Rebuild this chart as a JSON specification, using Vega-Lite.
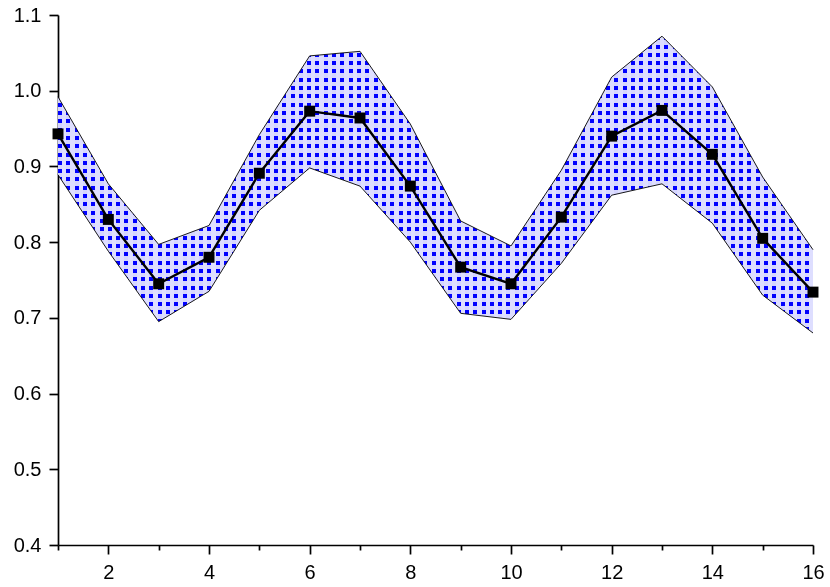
{
"$schema":"https://vega.github.io/schema/vega-lite/v6.json",
"width":755,"height":530,
"autosize":"none",
"padding":{"left":58,"top":15,"right":17,"bottom":42},
"background":"white",
"config":{"view":{"stroke":null},
"axis":{"domainColor":"black","domainWidth":1.7,"tickColor":"black","tickWidth":1.7,"labelColor":"black","labelFont":"Liberation Sans","labelFontSize":20,"grid":false,"labelPadding":8,"labelFlush":false,"labelOverlap":false}},
"data":{"values":[
{"x":1,"y":0.943,"lo":0.889,"hi":0.992},
{"x":2,"y":0.830,"lo":0.788,"hi":0.877},
{"x":3,"y":0.745,"lo":0.695,"hi":0.797},
{"x":4,"y":0.780,"lo":0.735,"hi":0.822},
{"x":5,"y":0.891,"lo":0.842,"hi":0.942},
{"x":6,"y":0.973,"lo":0.898,"hi":1.046},
{"x":7,"y":0.964,"lo":0.874,"hi":1.052},
{"x":8,"y":0.874,"lo":0.800,"hi":0.956},
{"x":9,"y":0.767,"lo":0.706,"hi":0.828},
{"x":10,"y":0.745,"lo":0.698,"hi":0.795},
{"x":11,"y":0.833,"lo":0.772,"hi":0.895},
{"x":12,"y":0.940,"lo":0.862,"hi":1.018},
{"x":13,"y":0.974,"lo":0.877,"hi":1.072},
{"x":14,"y":0.916,"lo":0.825,"hi":1.005},
{"x":15,"y":0.805,"lo":0.730,"hi":0.886},
{"x":16,"y":0.734,"lo":0.680,"hi":0.790}
]},
"layer":[
{"mark":{"type":"area","fill":{"gradient":"linear","x1":0,"y1":0,"x2":1,"y2":0,"stops":[
{"offset":0,"color":"#f5f5ff"},{"offset":0.0053,"color":"#f5f5ff"},{"offset":0.0053,"color":"#fff"},{"offset":0.011,"color":"#fff"},
{"offset":0.011,"color":"#f5f5ff"},{"offset":0.0163,"color":"#f5f5ff"},{"offset":0.0163,"color":"#fff"},{"offset":0.022,"color":"#fff"},
{"offset":0.022,"color":"#f5f5ff"},{"offset":0.0273,"color":"#f5f5ff"},{"offset":0.0273,"color":"#fff"},{"offset":0.033,"color":"#fff"},
{"offset":0.033,"color":"#f5f5ff"},{"offset":0.0383,"color":"#f5f5ff"},{"offset":0.0383,"color":"#fff"},{"offset":0.044,"color":"#fff"},
{"offset":0.044,"color":"#f5f5ff"},{"offset":0.0493,"color":"#f5f5ff"},{"offset":0.0493,"color":"#fff"},{"offset":0.055,"color":"#fff"},
{"offset":0.055,"color":"#f5f5ff"},{"offset":0.0603,"color":"#f5f5ff"},{"offset":0.0603,"color":"#fff"},{"offset":0.066,"color":"#fff"},
{"offset":0.066,"color":"#f5f5ff"},{"offset":0.0713,"color":"#f5f5ff"},{"offset":0.0713,"color":"#fff"},{"offset":0.077,"color":"#fff"},
{"offset":0.077,"color":"#f5f5ff"},{"offset":0.0823,"color":"#f5f5ff"},{"offset":0.0823,"color":"#fff"},{"offset":0.088,"color":"#fff"},
{"offset":0.088,"color":"#f5f5ff"},{"offset":0.0933,"color":"#f5f5ff"},{"offset":0.0933,"color":"#fff"},{"offset":0.099,"color":"#fff"},
{"offset":0.099,"color":"#f5f5ff"},{"offset":0.1043,"color":"#f5f5ff"},{"offset":0.1043,"color":"#fff"},{"offset":0.11,"color":"#fff"},
{"offset":0.11,"color":"#f5f5ff"},{"offset":0.1153,"color":"#f5f5ff"},{"offset":0.1153,"color":"#fff"},{"offset":0.121,"color":"#fff"},
{"offset":0.121,"color":"#f5f5ff"},{"offset":0.1263,"color":"#f5f5ff"},{"offset":0.1263,"color":"#fff"},{"offset":0.132,"color":"#fff"},
{"offset":0.132,"color":"#f5f5ff"},{"offset":0.1373,"color":"#f5f5ff"},{"offset":0.1373,"color":"#fff"},{"offset":0.143,"color":"#fff"},
{"offset":0.143,"color":"#f5f5ff"},{"offset":0.1483,"color":"#f5f5ff"},{"offset":0.1483,"color":"#fff"},{"offset":0.154,"color":"#fff"},
{"offset":0.154,"color":"#f5f5ff"},{"offset":0.1593,"color":"#f5f5ff"},{"offset":0.1593,"color":"#fff"},{"offset":0.165,"color":"#fff"},
{"offset":0.165,"color":"#f5f5ff"},{"offset":0.1703,"color":"#f5f5ff"},{"offset":0.1703,"color":"#fff"},{"offset":0.176,"color":"#fff"},
{"offset":0.176,"color":"#f5f5ff"},{"offset":0.1813,"color":"#f5f5ff"},{"offset":0.1813,"color":"#fff"},{"offset":0.187,"color":"#fff"},
{"offset":0.187,"color":"#f5f5ff"},{"offset":0.1923,"color":"#f5f5ff"},{"offset":0.1923,"color":"#fff"},{"offset":0.198,"color":"#fff"},
{"offset":0.198,"color":"#f5f5ff"},{"offset":0.2033,"color":"#f5f5ff"},{"offset":0.2033,"color":"#fff"},{"offset":0.209,"color":"#fff"},
{"offset":0.209,"color":"#f5f5ff"},{"offset":0.2143,"color":"#f5f5ff"},{"offset":0.2143,"color":"#fff"},{"offset":0.22,"color":"#fff"},
{"offset":0.22,"color":"#f5f5ff"},{"offset":0.2253,"color":"#f5f5ff"},{"offset":0.2253,"color":"#fff"},{"offset":0.231,"color":"#fff"},
{"offset":0.231,"color":"#f5f5ff"},{"offset":0.2363,"color":"#f5f5ff"},{"offset":0.2363,"color":"#fff"},{"offset":0.242,"color":"#fff"},
{"offset":0.242,"color":"#f5f5ff"},{"offset":0.2473,"color":"#f5f5ff"},{"offset":0.2473,"color":"#fff"},{"offset":0.253,"color":"#fff"},
{"offset":0.253,"color":"#f5f5ff"},{"offset":0.2583,"color":"#f5f5ff"},{"offset":0.2583,"color":"#fff"},{"offset":0.264,"color":"#fff"},
{"offset":0.264,"color":"#f5f5ff"},{"offset":0.2693,"color":"#f5f5ff"},{"offset":0.2693,"color":"#fff"},{"offset":0.275,"color":"#fff"},
{"offset":0.275,"color":"#f5f5ff"},{"offset":0.2803,"color":"#f5f5ff"},{"offset":0.2803,"color":"#fff"},{"offset":0.286,"color":"#fff"},
{"offset":0.286,"color":"#f5f5ff"},{"offset":0.2913,"color":"#f5f5ff"},{"offset":0.2913,"color":"#fff"},{"offset":0.297,"color":"#fff"},
{"offset":0.297,"color":"#f5f5ff"},{"offset":0.3023,"color":"#f5f5ff"},{"offset":0.3023,"color":"#fff"},{"offset":0.308,"color":"#fff"},
{"offset":0.308,"color":"#f5f5ff"},{"offset":0.3133,"color":"#f5f5ff"},{"offset":0.3133,"color":"#fff"},{"offset":0.319,"color":"#fff"},
{"offset":0.319,"color":"#f5f5ff"},{"offset":0.3243,"color":"#f5f5ff"},{"offset":0.3243,"color":"#fff"},{"offset":0.33,"color":"#fff"},
{"offset":0.33,"color":"#f5f5ff"},{"offset":0.3353,"color":"#f5f5ff"},{"offset":0.3353,"color":"#fff"},{"offset":0.341,"color":"#fff"},
{"offset":0.341,"color":"#f5f5ff"},{"offset":0.3463,"color":"#f5f5ff"},{"offset":0.3463,"color":"#fff"},{"offset":0.352,"color":"#fff"},
{"offset":0.352,"color":"#f5f5ff"},{"offset":0.3573,"color":"#f5f5ff"},{"offset":0.3573,"color":"#fff"},{"offset":0.363,"color":"#fff"},
{"offset":0.363,"color":"#f5f5ff"},{"offset":0.3683,"color":"#f5f5ff"},{"offset":0.3683,"color":"#fff"},{"offset":0.374,"color":"#fff"},
{"offset":0.374,"color":"#f5f5ff"},{"offset":0.3793,"color":"#f5f5ff"},{"offset":0.3793,"color":"#fff"},{"offset":0.385,"color":"#fff"},
{"offset":0.385,"color":"#f5f5ff"},{"offset":0.3903,"color":"#f5f5ff"},{"offset":0.3903,"color":"#fff"},{"offset":0.396,"color":"#fff"},
{"offset":0.396,"color":"#f5f5ff"},{"offset":0.4013,"color":"#f5f5ff"},{"offset":0.4013,"color":"#fff"},{"offset":0.407,"color":"#fff"},
{"offset":0.407,"color":"#f5f5ff"},{"offset":0.4123,"color":"#f5f5ff"},{"offset":0.4123,"color":"#fff"},{"offset":0.418,"color":"#fff"},
{"offset":0.418,"color":"#f5f5ff"},{"offset":0.4233,"color":"#f5f5ff"},{"offset":0.4233,"color":"#fff"},{"offset":0.429,"color":"#fff"},
{"offset":0.429,"color":"#f5f5ff"},{"offset":0.4343,"color":"#f5f5ff"},{"offset":0.4343,"color":"#fff"},{"offset":0.44,"color":"#fff"},
{"offset":0.44,"color":"#f5f5ff"},{"offset":0.4453,"color":"#f5f5ff"},{"offset":0.4453,"color":"#fff"},{"offset":0.451,"color":"#fff"},
{"offset":0.451,"color":"#f5f5ff"},{"offset":0.4563,"color":"#f5f5ff"},{"offset":0.4563,"color":"#fff"},{"offset":0.462,"color":"#fff"},
{"offset":0.462,"color":"#f5f5ff"},{"offset":0.4673,"color":"#f5f5ff"},{"offset":0.4673,"color":"#fff"},{"offset":0.473,"color":"#fff"},
{"offset":0.473,"color":"#f5f5ff"},{"offset":0.4783,"color":"#f5f5ff"},{"offset":0.4783,"color":"#fff"},{"offset":0.484,"color":"#fff"},
{"offset":0.484,"color":"#f5f5ff"},{"offset":0.4893,"color":"#f5f5ff"},{"offset":0.4893,"color":"#fff"},{"offset":0.495,"color":"#fff"},
{"offset":0.495,"color":"#f5f5ff"},{"offset":0.5003,"color":"#f5f5ff"},{"offset":0.5003,"color":"#fff"},{"offset":0.506,"color":"#fff"},
{"offset":0.506,"color":"#f5f5ff"},{"offset":0.5113,"color":"#f5f5ff"},{"offset":0.5113,"color":"#fff"},{"offset":0.517,"color":"#fff"},
{"offset":0.517,"color":"#f5f5ff"},{"offset":0.5223,"color":"#f5f5ff"},{"offset":0.5223,"color":"#fff"},{"offset":0.528,"color":"#fff"},
{"offset":0.528,"color":"#f5f5ff"},{"offset":0.5333,"color":"#f5f5ff"},{"offset":0.5333,"color":"#fff"},{"offset":0.539,"color":"#fff"},
{"offset":0.539,"color":"#f5f5ff"},{"offset":0.5443,"color":"#f5f5ff"},{"offset":0.5443,"color":"#fff"},{"offset":0.55,"color":"#fff"},
{"offset":0.55,"color":"#f5f5ff"},{"offset":0.5553,"color":"#f5f5ff"},{"offset":0.5553,"color":"#fff"},{"offset":0.561,"color":"#fff"},
{"offset":0.561,"color":"#f5f5ff"},{"offset":0.5663,"color":"#f5f5ff"},{"offset":0.5663,"color":"#fff"},{"offset":0.572,"color":"#fff"},
{"offset":0.572,"color":"#f5f5ff"},{"offset":0.5773,"color":"#f5f5ff"},{"offset":0.5773,"color":"#fff"},{"offset":0.583,"color":"#fff"},
{"offset":0.583,"color":"#f5f5ff"},{"offset":0.5883,"color":"#f5f5ff"},{"offset":0.5883,"color":"#fff"},{"offset":0.594,"color":"#fff"},
{"offset":0.594,"color":"#f5f5ff"},{"offset":0.5993,"color":"#f5f5ff"},{"offset":0.5993,"color":"#fff"},{"offset":0.605,"color":"#fff"},
{"offset":0.605,"color":"#f5f5ff"},{"offset":0.6103,"color":"#f5f5ff"},{"offset":0.6103,"color":"#fff"},{"offset":0.616,"color":"#fff"},
{"offset":0.616,"color":"#f5f5ff"},{"offset":0.6213,"color":"#f5f5ff"},{"offset":0.6213,"color":"#fff"},{"offset":0.627,"color":"#fff"},
{"offset":0.627,"color":"#f5f5ff"},{"offset":0.6323,"color":"#f5f5ff"},{"offset":0.6323,"color":"#fff"},{"offset":0.638,"color":"#fff"},
{"offset":0.638,"color":"#f5f5ff"},{"offset":0.6433,"color":"#f5f5ff"},{"offset":0.6433,"color":"#fff"},{"offset":0.649,"color":"#fff"},
{"offset":0.649,"color":"#f5f5ff"},{"offset":0.6543,"color":"#f5f5ff"},{"offset":0.6543,"color":"#fff"},{"offset":0.66,"color":"#fff"},
{"offset":0.66,"color":"#f5f5ff"},{"offset":0.6653,"color":"#f5f5ff"},{"offset":0.6653,"color":"#fff"},{"offset":0.671,"color":"#fff"},
{"offset":0.671,"color":"#f5f5ff"},{"offset":0.6763,"color":"#f5f5ff"},{"offset":0.6763,"color":"#fff"},{"offset":0.682,"color":"#fff"},
{"offset":0.682,"color":"#f5f5ff"},{"offset":0.6873,"color":"#f5f5ff"},{"offset":0.6873,"color":"#fff"},{"offset":0.693,"color":"#fff"},
{"offset":0.693,"color":"#f5f5ff"},{"offset":0.6983,"color":"#f5f5ff"},{"offset":0.6983,"color":"#fff"},{"offset":0.704,"color":"#fff"},
{"offset":0.704,"color":"#f5f5ff"},{"offset":0.7093,"color":"#f5f5ff"},{"offset":0.7093,"color":"#fff"},{"offset":0.715,"color":"#fff"},
{"offset":0.715,"color":"#f5f5ff"},{"offset":0.7203,"color":"#f5f5ff"},{"offset":0.7203,"color":"#fff"},{"offset":0.726,"color":"#fff"},
{"offset":0.726,"color":"#f5f5ff"},{"offset":0.7313,"color":"#f5f5ff"},{"offset":0.7313,"color":"#fff"},{"offset":0.737,"color":"#fff"},
{"offset":0.737,"color":"#f5f5ff"},{"offset":0.7423,"color":"#f5f5ff"},{"offset":0.7423,"color":"#fff"},{"offset":0.748,"color":"#fff"},
{"offset":0.748,"color":"#f5f5ff"},{"offset":0.7533,"color":"#f5f5ff"},{"offset":0.7533,"color":"#fff"},{"offset":0.759,"color":"#fff"},
{"offset":0.759,"color":"#f5f5ff"},{"offset":0.7643,"color":"#f5f5ff"},{"offset":0.7643,"color":"#fff"},{"offset":0.77,"color":"#fff"},
{"offset":0.77,"color":"#f5f5ff"},{"offset":0.7753,"color":"#f5f5ff"},{"offset":0.7753,"color":"#fff"},{"offset":0.781,"color":"#fff"},
{"offset":0.781,"color":"#f5f5ff"},{"offset":0.7863,"color":"#f5f5ff"},{"offset":0.7863,"color":"#fff"},{"offset":0.792,"color":"#fff"},
{"offset":0.792,"color":"#f5f5ff"},{"offset":0.7973,"color":"#f5f5ff"},{"offset":0.7973,"color":"#fff"},{"offset":0.803,"color":"#fff"},
{"offset":0.803,"color":"#f5f5ff"},{"offset":0.8083,"color":"#f5f5ff"},{"offset":0.8083,"color":"#fff"},{"offset":0.814,"color":"#fff"},
{"offset":0.814,"color":"#f5f5ff"},{"offset":0.8193,"color":"#f5f5ff"},{"offset":0.8193,"color":"#fff"},{"offset":0.825,"color":"#fff"},
{"offset":0.825,"color":"#f5f5ff"},{"offset":0.8303,"color":"#f5f5ff"},{"offset":0.8303,"color":"#fff"},{"offset":0.836,"color":"#fff"},
{"offset":0.836,"color":"#f5f5ff"},{"offset":0.8413,"color":"#f5f5ff"},{"offset":0.8413,"color":"#fff"},{"offset":0.847,"color":"#fff"},
{"offset":0.847,"color":"#f5f5ff"},{"offset":0.8523,"color":"#f5f5ff"},{"offset":0.8523,"color":"#fff"},{"offset":0.858,"color":"#fff"},
{"offset":0.858,"color":"#f5f5ff"},{"offset":0.8633,"color":"#f5f5ff"},{"offset":0.8633,"color":"#fff"},{"offset":0.869,"color":"#fff"},
{"offset":0.869,"color":"#f5f5ff"},{"offset":0.8743,"color":"#f5f5ff"},{"offset":0.8743,"color":"#fff"},{"offset":0.88,"color":"#fff"},
{"offset":0.88,"color":"#f5f5ff"},{"offset":0.8853,"color":"#f5f5ff"},{"offset":0.8853,"color":"#fff"},{"offset":0.891,"color":"#fff"},
{"offset":0.891,"color":"#f5f5ff"},{"offset":0.8963,"color":"#f5f5ff"},{"offset":0.8963,"color":"#fff"},{"offset":0.902,"color":"#fff"},
{"offset":0.902,"color":"#f5f5ff"},{"offset":0.9073,"color":"#f5f5ff"},{"offset":0.9073,"color":"#fff"},{"offset":0.913,"color":"#fff"},
{"offset":0.913,"color":"#f5f5ff"},{"offset":0.9183,"color":"#f5f5ff"},{"offset":0.9183,"color":"#fff"},{"offset":0.924,"color":"#fff"},
{"offset":0.924,"color":"#f5f5ff"},{"offset":0.9293,"color":"#f5f5ff"},{"offset":0.9293,"color":"#fff"},{"offset":0.935,"color":"#fff"},
{"offset":0.935,"color":"#f5f5ff"},{"offset":0.9403,"color":"#f5f5ff"},{"offset":0.9403,"color":"#fff"},{"offset":0.946,"color":"#fff"},
{"offset":0.946,"color":"#f5f5ff"},{"offset":0.9513,"color":"#f5f5ff"},{"offset":0.9513,"color":"#fff"},{"offset":0.957,"color":"#fff"},
{"offset":0.957,"color":"#f5f5ff"},{"offset":0.9623,"color":"#f5f5ff"},{"offset":0.9623,"color":"#fff"},{"offset":0.968,"color":"#fff"},
{"offset":0.968,"color":"#f5f5ff"},{"offset":0.9733,"color":"#f5f5ff"},{"offset":0.9733,"color":"#fff"},{"offset":0.979,"color":"#fff"},
{"offset":0.979,"color":"#f5f5ff"},{"offset":0.9843,"color":"#f5f5ff"},{"offset":0.9843,"color":"#fff"},{"offset":0.99,"color":"#fff"},
{"offset":0.99,"color":"#f5f5ff"},{"offset":0.9953,"color":"#f5f5ff"},{"offset":0.9953,"color":"#fff"},{"offset":1,"color":"#fff"}
]}},
"encoding":{
"x":{"field":"x","type":"quantitative","title":null,"scale":{"domain":[1,16],"nice":false,"zero":false},
"axis":{"values":[1,2,3,4,5,6,7,8,9,10,11,12,13,14,15,16],"labelExpr":"datum.value % 2 == 0 ? datum.label : ''","tickSize":{"condition":{"test":"datum.value % 2 == 0","value":9},"value":5}}},
"y":{"field":"hi","type":"quantitative","title":null,"scale":{"domain":[0.4,1.1],"nice":false,"zero":false},
"axis":{"values":[0.4,0.45,0.5,0.55,0.6,0.65,0.7,0.75,0.8,0.85,0.9,0.95,1.0,1.05,1.1],"labelExpr":"round(datum.value*100) % 10 == 0 ? format(datum.value, '.1f') : ''","tickSize":{"condition":{"test":"round(datum.value*100) % 10 == 0","value":9},"value":5}}},
"y2":{"field":"lo"}}},
{"mark":{"type":"area","blend":"color-burn","fill":{"gradient":"linear","x1":0,"y1":0,"x2":0,"y2":1,"stops":[
{"offset":0,"color":"#0808ff"},{"offset":0.0135,"color":"#0808ff"},{"offset":0.0135,"color":"#fff"},{"offset":0.028,"color":"#fff"},
{"offset":0.028,"color":"#0808ff"},{"offset":0.0415,"color":"#0808ff"},{"offset":0.0415,"color":"#fff"},{"offset":0.056,"color":"#fff"},
{"offset":0.056,"color":"#0808ff"},{"offset":0.0695,"color":"#0808ff"},{"offset":0.0695,"color":"#fff"},{"offset":0.084,"color":"#fff"},
{"offset":0.084,"color":"#0808ff"},{"offset":0.0975,"color":"#0808ff"},{"offset":0.0975,"color":"#fff"},{"offset":0.112,"color":"#fff"},
{"offset":0.112,"color":"#0808ff"},{"offset":0.1255,"color":"#0808ff"},{"offset":0.1255,"color":"#fff"},{"offset":0.14,"color":"#fff"},
{"offset":0.14,"color":"#0808ff"},{"offset":0.1535,"color":"#0808ff"},{"offset":0.1535,"color":"#fff"},{"offset":0.168,"color":"#fff"},
{"offset":0.168,"color":"#0808ff"},{"offset":0.1815,"color":"#0808ff"},{"offset":0.1815,"color":"#fff"},{"offset":0.196,"color":"#fff"},
{"offset":0.196,"color":"#0808ff"},{"offset":0.2095,"color":"#0808ff"},{"offset":0.2095,"color":"#fff"},{"offset":0.224,"color":"#fff"},
{"offset":0.224,"color":"#0808ff"},{"offset":0.2375,"color":"#0808ff"},{"offset":0.2375,"color":"#fff"},{"offset":0.252,"color":"#fff"},
{"offset":0.252,"color":"#0808ff"},{"offset":0.2655,"color":"#0808ff"},{"offset":0.2655,"color":"#fff"},{"offset":0.28,"color":"#fff"},
{"offset":0.28,"color":"#0808ff"},{"offset":0.2935,"color":"#0808ff"},{"offset":0.2935,"color":"#fff"},{"offset":0.308,"color":"#fff"},
{"offset":0.308,"color":"#0808ff"},{"offset":0.3215,"color":"#0808ff"},{"offset":0.3215,"color":"#fff"},{"offset":0.336,"color":"#fff"},
{"offset":0.336,"color":"#0808ff"},{"offset":0.3495,"color":"#0808ff"},{"offset":0.3495,"color":"#fff"},{"offset":0.364,"color":"#fff"},
{"offset":0.364,"color":"#0808ff"},{"offset":0.3775,"color":"#0808ff"},{"offset":0.3775,"color":"#fff"},{"offset":0.392,"color":"#fff"},
{"offset":0.392,"color":"#0808ff"},{"offset":0.4055,"color":"#0808ff"},{"offset":0.4055,"color":"#fff"},{"offset":0.42,"color":"#fff"},
{"offset":0.42,"color":"#0808ff"},{"offset":0.4335,"color":"#0808ff"},{"offset":0.4335,"color":"#fff"},{"offset":0.448,"color":"#fff"},
{"offset":0.448,"color":"#0808ff"},{"offset":0.4615,"color":"#0808ff"},{"offset":0.4615,"color":"#fff"},{"offset":0.476,"color":"#fff"},
{"offset":0.476,"color":"#0808ff"},{"offset":0.4895,"color":"#0808ff"},{"offset":0.4895,"color":"#fff"},{"offset":0.504,"color":"#fff"},
{"offset":0.504,"color":"#0808ff"},{"offset":0.5175,"color":"#0808ff"},{"offset":0.5175,"color":"#fff"},{"offset":0.532,"color":"#fff"},
{"offset":0.532,"color":"#0808ff"},{"offset":0.5455,"color":"#0808ff"},{"offset":0.5455,"color":"#fff"},{"offset":0.56,"color":"#fff"},
{"offset":0.56,"color":"#0808ff"},{"offset":0.5735,"color":"#0808ff"},{"offset":0.5735,"color":"#fff"},{"offset":0.588,"color":"#fff"},
{"offset":0.588,"color":"#0808ff"},{"offset":0.6015,"color":"#0808ff"},{"offset":0.6015,"color":"#fff"},{"offset":0.616,"color":"#fff"},
{"offset":0.616,"color":"#0808ff"},{"offset":0.6295,"color":"#0808ff"},{"offset":0.6295,"color":"#fff"},{"offset":0.644,"color":"#fff"},
{"offset":0.644,"color":"#0808ff"},{"offset":0.6575,"color":"#0808ff"},{"offset":0.6575,"color":"#fff"},{"offset":0.672,"color":"#fff"},
{"offset":0.672,"color":"#0808ff"},{"offset":0.6855,"color":"#0808ff"},{"offset":0.6855,"color":"#fff"},{"offset":0.7,"color":"#fff"},
{"offset":0.7,"color":"#0808ff"},{"offset":0.7135,"color":"#0808ff"},{"offset":0.7135,"color":"#fff"},{"offset":0.728,"color":"#fff"},
{"offset":0.728,"color":"#0808ff"},{"offset":0.7415,"color":"#0808ff"},{"offset":0.7415,"color":"#fff"},{"offset":0.756,"color":"#fff"},
{"offset":0.756,"color":"#0808ff"},{"offset":0.7695,"color":"#0808ff"},{"offset":0.7695,"color":"#fff"},{"offset":0.784,"color":"#fff"},
{"offset":0.784,"color":"#0808ff"},{"offset":0.7975,"color":"#0808ff"},{"offset":0.7975,"color":"#fff"},{"offset":0.812,"color":"#fff"},
{"offset":0.812,"color":"#0808ff"},{"offset":0.8255,"color":"#0808ff"},{"offset":0.8255,"color":"#fff"},{"offset":0.84,"color":"#fff"},
{"offset":0.84,"color":"#0808ff"},{"offset":0.8535,"color":"#0808ff"},{"offset":0.8535,"color":"#fff"},{"offset":0.868,"color":"#fff"},
{"offset":0.868,"color":"#0808ff"},{"offset":0.8815,"color":"#0808ff"},{"offset":0.8815,"color":"#fff"},{"offset":0.896,"color":"#fff"},
{"offset":0.896,"color":"#0808ff"},{"offset":0.9095,"color":"#0808ff"},{"offset":0.9095,"color":"#fff"},{"offset":0.924,"color":"#fff"},
{"offset":0.924,"color":"#0808ff"},{"offset":0.9375,"color":"#0808ff"},{"offset":0.9375,"color":"#fff"},{"offset":0.952,"color":"#fff"},
{"offset":0.952,"color":"#0808ff"},{"offset":0.9655,"color":"#0808ff"},{"offset":0.9655,"color":"#fff"},{"offset":0.98,"color":"#fff"},
{"offset":0.98,"color":"#0808ff"},{"offset":0.9935,"color":"#0808ff"},{"offset":0.9935,"color":"#fff"},{"offset":1,"color":"#fff"}
]}},
"encoding":{"x":{"field":"x","type":"quantitative","title":null},"y":{"field":"hi","type":"quantitative","title":null},"y2":{"field":"lo"}}},
{"mark":{"type":"area","blend":"multiply","fill":"#dedeff"},
"encoding":{"x":{"field":"x","type":"quantitative","title":null},"y":{"field":"hi","type":"quantitative","title":null},"y2":{"field":"lo"}}},
{"mark":{"type":"line","color":"black","strokeWidth":0.9},
"encoding":{"x":{"field":"x","type":"quantitative","title":null},"y":{"field":"hi","type":"quantitative","title":null}}},
{"mark":{"type":"line","color":"black","strokeWidth":0.9},
"encoding":{"x":{"field":"x","type":"quantitative","title":null},"y":{"field":"lo","type":"quantitative","title":null}}},
{"mark":{"type":"line","color":"black","strokeWidth":2.4},
"encoding":{"x":{"field":"x","type":"quantitative","title":null},"y":{"field":"y","type":"quantitative","title":null}}},
{"mark":{"type":"point","shape":"square","size":120,"filled":true,"color":"black","opacity":1},
"encoding":{"x":{"field":"x","type":"quantitative","title":null},"y":{"field":"y","type":"quantitative","title":null}}}
]
}
